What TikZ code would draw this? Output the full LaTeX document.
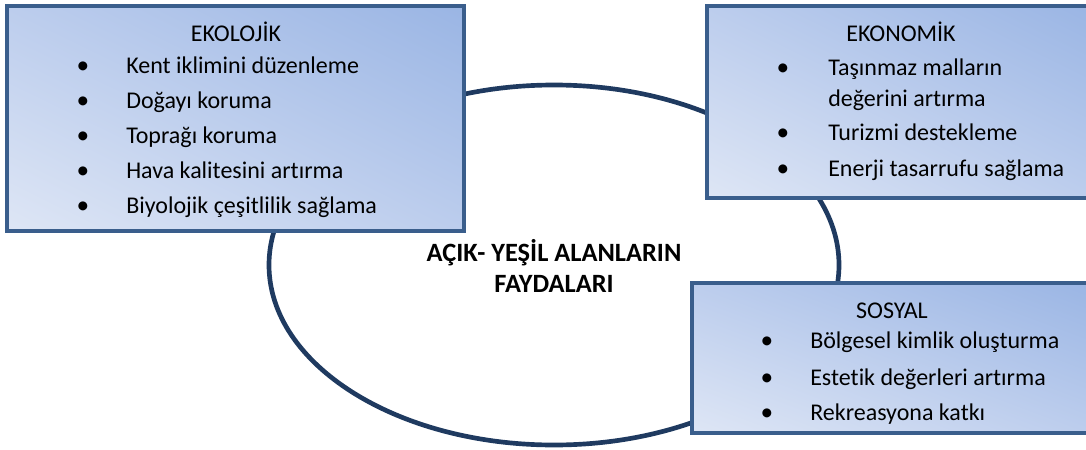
\documentclass[tikz,border=0pt]{standalone}
\usepackage{fontspec}
\usetikzlibrary{shapes.geometric,shadings}
\setmainfont{Carlito}[Ligatures=NoCommon]
\definecolor{ringc}{HTML}{1F3A60}
\definecolor{boxb}{HTML}{3A5E8C}
\definecolor{gTR}{HTML}{9AB5E4}
\definecolor{gBL}{HTML}{DEE6F5}
\definecolor{gM}{HTML}{BCCDED}
\begin{document}
\begin{tikzpicture}[x=0.75pt,y=-0.75pt,
  panel/.style={draw=boxb, line width=3.5pt, upper right=gTR, lower left=gBL, upper left=gM, lower right=gM, inner sep=0pt},
  ttl/.style={font=\fontsize{18}{20}\selectfont, anchor=base, inner sep=0pt},
  itm/.style={font=\fontsize{18}{20}\selectfont, anchor=base west, inner sep=0pt},
  blt/.style={font=\fontsize{19}{20}\selectfont, anchor=base, inner sep=0pt},
  mid/.style={font=\bfseries\fontsize{19.8}{22}\selectfont, anchor=base, inner sep=0pt}]
\useasboundingbox (0,0) rectangle (1086,450);
% ring
\node[draw=ringc, line width=3.5pt, ellipse, minimum width=427.5pt, minimum height=270pt, inner sep=0pt] (ring) at (554,265) {};
\node[mid] (c1) at (554,261) {AÇIK- YEŞİL ALANLARIN};
\node[mid] (c2) at (554,292) {FAYDALARI};
% EKOLOJIK
\path[panel] (7,6) rectangle (464,231);
\node[ttl] (t1) at (236,41) {EKOLOJİK};
\node[blt] (b11) at (83,73) {•};
\node[itm] (i11) at (126,73) {Kent iklimini düzenleme};
\node[blt] (b12) at (83,108) {•};
\node[itm] (i12) at (126,108) {Doğayı koruma};
\node[blt] (b13) at (83,143) {•};
\node[itm] (i13) at (126,143) {Toprağı koruma};
\node[blt] (b14) at (83,178) {•};
\node[itm] (i14) at (126,178) {Hava kalitesini artırma};
\node[blt] (b15) at (83,213) {•};
\node[itm] (i15) at (126,213) {Biyolojik çeşitlilik sağlama};
% EKONOMIK
\path[panel] (707,6) rectangle (1095,198);
\node[ttl] (t2) at (901,41) {EKONOMİK};
\node[blt] (b21) at (783,75) {•};
\node[itm] (i21) at (828,75) {Taşınmaz malların};
\node[itm] (i21b) at (828,106) {değerini artırma};
\node[blt] (b22) at (783,140) {•};
\node[itm] (i22) at (828,140) {Turizmi destekleme};
\node[blt] (b23) at (783,176) {•};
\node[itm] (i23) at (828,176) {Enerji tasarrufu sağlama};
% SOSYAL
\path[panel] (692,283) rectangle (1095,433);
\node[ttl] (t3) at (892,318) {SOSYAL};
\node[blt] (b31) at (767,348) {•};
\node[itm] (i31) at (810,348) {Bölgesel kimlik oluşturma};
\node[blt] (b32) at (767,385) {•};
\node[itm] (i32) at (810,385) {Estetik değerleri artırma};
\node[blt] (b33) at (767,420) {•};
\node[itm] (i33) at (810,420) {Rekreasyona katkı};
\end{tikzpicture}
\end{document}
